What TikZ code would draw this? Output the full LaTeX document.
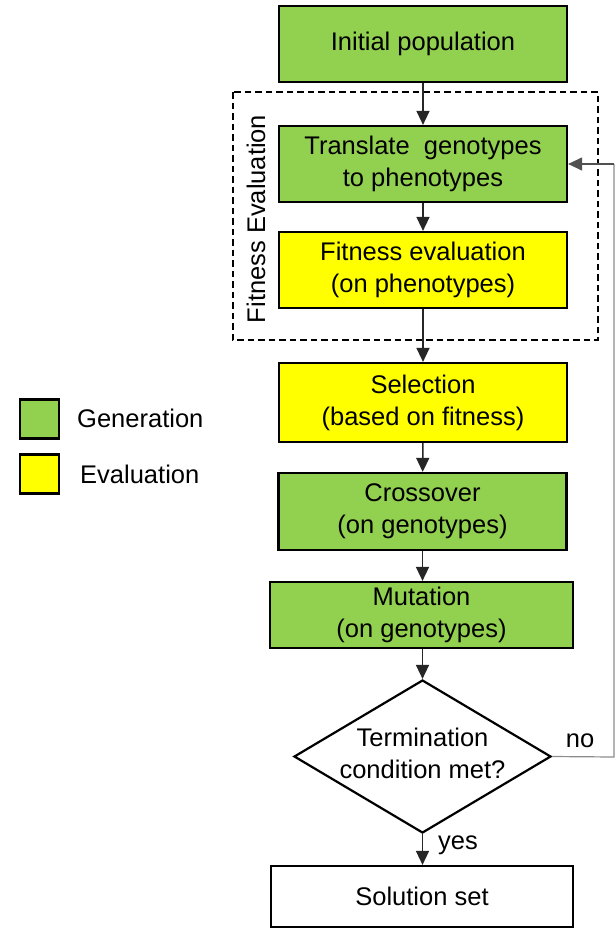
\documentclass[tikz,border=0pt]{standalone}
\usepackage{fontspec}
\setmainfont{Liberation Sans}
\usetikzlibrary{arrows.meta,shapes.geometric}
\definecolor{gengreen}{HTML}{92D050}
\definecolor{evalyellow}{HTML}{FFFF00}
\definecolor{arrowgray}{HTML}{262626}
\definecolor{loopgray}{HTML}{8C8C8C}
\tikzset{
  box/.style={draw=black, line width=2.2bp, rectangle, minimum width=288bp, inner sep=0pt, align=center, font=\fontsize{25.6}{32}\selectfont},
  genbox/.style={box, fill=gengreen},
  evalbox/.style={box, fill=evalyellow},
  flow/.style={draw=arrowgray, line width=1.5bp, -{Triangle[width=13bp,length=14bp]}},
  loopline/.style={draw=loopgray, line width=1.2bp},
  lbl/.style={font=\fontsize{25.6}{32}\selectfont, inner sep=0pt},
  legendbox/.style={draw=black, line width=2.2bp, minimum width=39bp, minimum height=39bp, inner sep=0pt},
}
\begin{document}
\begin{tikzpicture}[x=1bp,y=-1bp]
\useasboundingbox (0,0) rectangle (615,929);
% dashed group
\draw[dashed, line width=1.8bp, dash pattern=on 6.5bp off 4bp] (233,92) rectangle (598,340);
\node[lbl, rotate=90] (fe) at (256,219) {Fitness Evaluation};
% boxes
\node[genbox, minimum height=76bp] (init) at (423,44) {Initial population};
\node[genbox, minimum height=76bp] (trans) at (423,164) {Translate\ \ genotypes\\to phenotypes};
\node[evalbox, minimum height=76bp] (fit) at (423,270) {Fitness evaluation\\(on phenotypes)};
\node[evalbox, minimum height=79bp] (sel) at (423,402.5) {Selection\\(based on fitness)};
\node[genbox, minimum height=77bp] (cross) at (422.5,511.5) {Crossover\\(on genotypes)};
\node[genbox, minimum height=66bp, minimum width=303bp] (mut) at (421.5,615) {Mutation\\(on genotypes)};
\node[draw=black, line width=2.2bp, diamond, minimum width=257bp, minimum height=153bp, inner sep=0pt] (dec) at (422.5,756.5) {};
\node[lbl, align=center] (dectext) at (422.5,753) {Termination\\condition met?};
\node[box, minimum height=61bp, minimum width=302bp] (sol) at (422,896.5) {Solution set};
% arrows
\draw[flow] (init) -- (trans);
\draw[flow] (trans) -- (fit);
\draw[flow] (fit) -- (sel);
\draw[flow] (sel) -- (cross);
\draw[flow] (cross.south) -- (cross.south |- mut.north);
\draw[flow] (mut.south -| dec.north) -- (dec.north);
\draw[flow] (dec.south) -- (dec.south |- sol.north);
% loop back
\coordinate (cr) at (614,757);
\coordinate (ct) at (614,164);
\draw[loopline] (dec.east) -- (cr) -- (ct);
\draw[loopline, draw=arrowgray!80, -{Triangle[width=13bp,length=14bp]}] (ct) -- (trans.east);
\node[lbl] (no) at (580,741) {no};
\node[lbl] (yes) at (458,845) {yes};
% legend
\node[legendbox, fill=gengreen] (lg) at (39.5,419) {};
\node[legendbox, fill=evalyellow] (ly) at (39.5,474) {};
\node[lbl, anchor=west] (lgt) at (77,418) {Generation};
\node[lbl, anchor=west] (lyt) at (80,474) {Evaluation};
\end{tikzpicture}
\end{document}
